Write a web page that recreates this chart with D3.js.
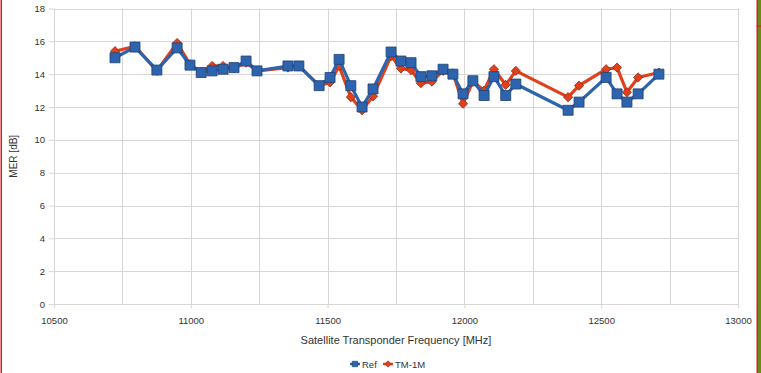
<!DOCTYPE html>
<html>
<head>
<meta charset="utf-8">
<script src="https://cdn.jsdelivr.net/npm/d3@7"></script>
<style>
  body { margin: 0; background: #fff; }
  svg { display: block; font-family: "Liberation Sans", Arial, sans-serif; }
  .grid line { stroke: #d6d6d6; stroke-width: 1; }
  .axis text { fill: #333; font-size: 9.5px; }
  .axis path { display: none; }
  .axis line { stroke: #d6d6d6; }
</style>
</head>
<body>
<div id="chart"></div>
<script>
// transponder frequencies (MHz)
var freqs = [10723, 10796, 10876, 10950, 10997, 11038, 11078, 11118, 11158, 11202,
  11242, 11355, 11395, 11469, 11509, 11542, 11585, 11626, 11666, 11732,
  11768, 11805, 11841, 11881, 11922, 11958, 11995, 12031, 12072, 12108,
  12151, 12188, 12379, 12419, 12518, 12558, 12594, 12635, 12711];

// MER values [dB]
var refMer = [15.0, 15.65, 14.25, 15.6, 14.55, 14.1, 14.2, 14.3, 14.4, 14.8,
  14.2, 14.5, 14.5, 13.3, 13.8, 14.9, 13.3, 12.0, 13.1, 15.35,
  14.8, 14.7, 13.85, 13.9, 14.3, 14.0, 12.8, 13.6, 12.7, 13.85,
  12.7, 13.4, 11.8, 12.3, 13.8, 12.8, 12.3, 12.8, 14.0];

var tmMer = [15.4, 15.7, 14.2, 15.9, 14.6, 14.1, 14.5, 14.5, 14.35, 14.7,
  14.2, 14.4, 14.5, 13.3, 13.5, 14.5, 12.6, 11.8, 12.65, 15.1,
  14.35, 14.25, 13.45, 13.55, 14.2, 14.05, 12.2, 13.55, 13.0, 14.3,
  13.35, 14.2, 12.6, 13.3, 14.3, 14.4, 12.9, 13.8, 14.1];

var xTicks = [10500, 11000, 11500, 12000, 12500, 13000];
var yTicks = [0, 2, 4, 6, 8, 10, 12, 14, 16, 18];

var w = 761, h = 373;
var pLeft = 54, pRight = 738, pTop = 8.5, pBottom = 304;

var svg = d3.select("#chart").append("svg")
  .attr("width", w)
  .attr("height", h);

var x = d3.scaleLinear().domain([10500, 13000]).range([pLeft, pRight]);
var y = d3.scaleLinear().domain([0, 18]).range([pBottom, pTop]);

// grid lines
var grid = svg.append("g").attr("class", "grid");
grid.selectAll("line.v")
  .data(d3.range(10500, 13001, 250))
  .enter().append("line")
  .attr("x1", function (d) { return Math.round(x(d)) + 0.5; })
  .attr("x2", function (d) { return Math.round(x(d)) + 0.5; })
  .attr("y1", pTop)
  .attr("y2", pBottom);
grid.selectAll("line.h")
  .data(yTicks)
  .enter().append("line")
  .attr("x1", pLeft)
  .attr("x2", pRight)
  .attr("y1", function (d) { return Math.round(y(d)) + 0.5; })
  .attr("y2", function (d) { return Math.round(y(d)) + 0.5; });

// axes
svg.append("g")
  .attr("class", "axis")
  .attr("transform", "translate(0," + (Math.round(pBottom) + 0.5) + ")")
  .call(d3.axisBottom(x).tickValues(xTicks).tickSize(4).tickPadding(9).tickFormat(d3.format("d")));

svg.append("g")
  .attr("class", "axis")
  .attr("transform", "translate(" + pLeft + ",0)")
  .call(d3.axisLeft(y).tickValues(yTicks).tickSize(5).tickPadding(4).tickFormat(d3.format("d")));

// axis titles
svg.append("text")
  .attr("x", (pLeft + pRight) / 2)
  .attr("y", 344)
  .attr("text-anchor", "middle")
  .attr("fill", "#333")
  .style("font-size", "11px")
  .text("Satellite Transponder Frequency [MHz]");

svg.append("text")
  .attr("transform", "translate(17," + ((pTop + pBottom) / 2) + ") rotate(-90)")
  .attr("text-anchor", "middle")
  .attr("fill", "#333")
  .style("font-size", "10px")
  .text("MER [dB]");

var line = d3.line()
  .x(function (d) { return x(d.f); })
  .y(function (d) { return y(d.v); });

function pts(vals) {
  return freqs.map(function (f, i) { return {f: f, v: vals[i]}; });
}

// diamonds are squares turned by 45 degrees
var series = [
  {name: "TM-1M", vals: tmMer, color: "#e0401c", edge: "#9c2a10", size: 42, rot: 45},
  {name: "Ref", vals: refMer, color: "#2e63ad", edge: "#1d4377", size: 100, rot: 0}
];

series.forEach(function (s) {
  var data = pts(s.vals);
  svg.append("path")
    .datum(data)
    .attr("fill", "none")
    .attr("stroke", s.color)
    .attr("stroke-width", 3.2)
    .attr("stroke-linejoin", "round")
    .attr("d", line);
  svg.append("g").selectAll("path")
    .data(data)
    .enter().append("path")
    .attr("transform", function (d) { return "translate(" + x(d.f) + "," + y(d.v) + ") rotate(" + s.rot + ")"; })
    .attr("d", d3.symbol().type(d3.symbolSquare).size(s.size))
    .attr("fill", s.color)
    .attr("stroke", s.edge)
    .attr("stroke-width", 0.8);
});

// legend
var legend = svg.append("g").attr("transform", "translate(0,364)");
var legItems = [
  {name: "Ref", color: "#2e63ad", edge: "#1d4377", rot: 0, size: 30, x: 350, tx: 362},
  {name: "TM-1M", color: "#e0401c", edge: "#9c2a10", rot: 45, size: 20, x: 383, tx: 395}
];
legItems.forEach(function (l) {
  legend.append("line")
    .attr("x1", l.x).attr("x2", l.x + 10)
    .attr("y1", 0).attr("y2", 0)
    .attr("stroke", l.color).attr("stroke-width", 2.5);
  legend.append("path")
    .attr("transform", "translate(" + (l.x + 5) + ",0) rotate(" + l.rot + ")")
    .attr("d", d3.symbol().type(d3.symbolSquare).size(l.size))
    .attr("fill", l.color).attr("stroke", l.edge).attr("stroke-width", 0.6);
  legend.append("text")
    .attr("x", l.tx).attr("y", 3.5)
    .attr("fill", "#333")
    .style("font-size", "9.5px")
    .text(l.name);
});

// window frame edges
svg.append("rect").attr("x", 0.5).attr("y", 0).attr("width", 1.5).attr("height", h).attr("fill", "#e21b1b");
svg.append("rect").attr("x", 757.5).attr("y", 0).attr("width", 3.5).attr("height", h).attr("fill", "#6b8a1e");
svg.append("rect").attr("x", 756.5).attr("y", 0).attr("width", 1.5).attr("height", h).attr("fill", "#e21b1b");
svg.append("rect").attr("x", 756.5).attr("y", 25.5).attr("width", 4.5).attr("height", 1.2).attr("fill", "#e21b1b");
</script>
</body>
</html>
